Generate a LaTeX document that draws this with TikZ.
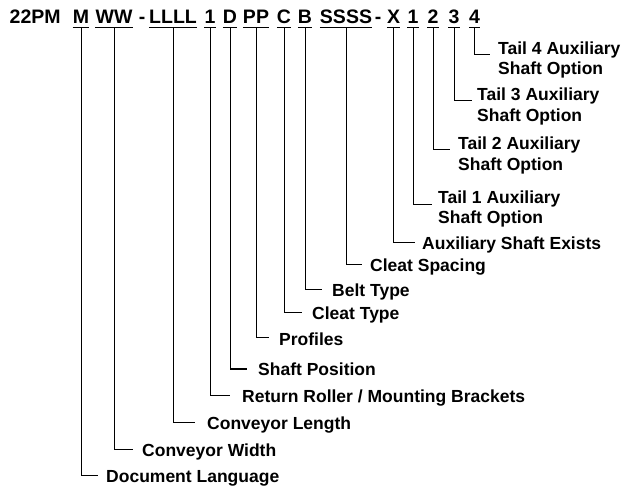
\documentclass[tikz,border=0pt]{standalone}
\usepackage{fontspec}
\setmainfont{Liberation Sans}
\begin{document}
\begin{tikzpicture}[x=1pt,y=-1pt,
  hd/.style={anchor=base, inner xsep=0pt, inner ysep=3pt, font=\fontsize{19.5}{22}\selectfont\bfseries},
  lbl/.style={anchor=base west, inner sep=0pt, font=\fontsize{17.5}{20.5}\selectfont\bfseries},
  ul/.style={line width=1.2pt},
  conn/.style={line width=1pt}]
\useasboundingbox (0,0) rectangle (624,486);
% header
\node[hd, anchor=base west] (h0) at (9.5,24) {22PM};
\node[hd] (hM) at (81,24) {M};
\node[hd] (hW) at (114,24) {WW};
\node[hd] (d1) at (142,24) {-};
\node[hd] (hL) at (173,24) {LLLL};
\node[hd] (hR) at (210,24) {1};
\node[hd] (hD) at (230,24) {D};
\node[hd] (hP) at (256,24) {PP};
\node[hd] (hC) at (284,24) {C};
\node[hd] (hB) at (305,24) {B};
\node[hd] (hS) at (346,24) {SSSS};
\node[hd] (d2) at (378,24) {-};
\node[hd] (hX) at (393.5,24) {X};
\node[hd] (h1) at (413,24) {1};
\node[hd] (h2) at (433,24) {2};
\node[hd] (h3) at (454,24) {3};
\node[hd] (h4) at (474.5,24) {4};
\foreach \n in {hM,hW,hL,hR,hD,hP,hC,hB,hS,hX,h1,h2,h3,h4}
  \draw[ul] (\n.south west) -- (\n.south east);
% labels
\node[lbl] (l4) at (498,54.5) {\begin{tabular}[t]{@{}l@{}}Tail 4 Auxiliary\\Shaft Option\end{tabular}};
\node[lbl] (l3) at (477,100.7) {\begin{tabular}[t]{@{}l@{}}Tail 3 Auxiliary\\Shaft Option\end{tabular}};
\node[lbl] (l2) at (458,150) {\begin{tabular}[t]{@{}l@{}}Tail 2 Auxiliary\\Shaft Option\end{tabular}};
\node[lbl] (l1) at (438,203.5) {\begin{tabular}[t]{@{}l@{}}Tail 1 Auxiliary\\Shaft Option\end{tabular}};
\node[lbl] (lX) at (422,250) {Auxiliary Shaft Exists};
\node[lbl] (lS) at (370,272) {Cleat Spacing};
\node[lbl] (lB) at (332,297) {Belt Type};
\node[lbl] (lC) at (312,320) {Cleat Type};
\node[lbl] (lP) at (279,345) {Profiles};
\node[lbl] (lD) at (258,376) {Shaft Position};
\node[lbl] (lR) at (242,402) {Return Roller / Mounting Brackets};
\node[lbl] (lL) at (207,429) {Conveyor Length};
\node[lbl] (lW) at (142,456) {Conveyor Width};
\node[lbl] (lM) at (106,482) {Document Language};
% connectors
\draw[conn] (h4.south) |- ([xshift=-8pt]l4.base west);
\draw[conn] (h3.south) |- ([xshift=-5pt]l3.base west);
\draw[conn] (h2.south) |- ([xshift=-8pt]l2.base west);
\draw[conn] (h1.south) |- ([xshift=-6pt,yshift=-1.5pt]l1.base west);
\draw[conn] (hX.south) |- ([xshift=-7pt,yshift=7pt]lX.base west);
\draw[conn] (hS.south) |- ([xshift=-8pt,yshift=7pt]lS.base west);
\draw[conn] (hB.south) |- ([xshift=-10pt,yshift=7pt]lB.base west);
\draw[conn] (hC.south) |- ([xshift=-10pt,yshift=7pt]lC.base west);
\draw[conn] (hP.south) |- ([xshift=-10pt,yshift=7pt]lP.base west);
\draw[conn] (hD.south) |- ([xshift=-11pt,yshift=7pt]lD.base west);
\draw[conn] (hR.south) |- ([xshift=-12pt,yshift=7pt]lR.base west);
\draw[conn] (hL.south) |- ([xshift=-12pt,yshift=7pt]lL.base west);
\draw[conn] (hW.south) |- ([xshift=-9pt,yshift=7pt]lW.base west);
\draw[conn] (hM.south) |- ([xshift=-8pt,yshift=7pt]lM.base west);
\end{tikzpicture}
\end{document}
